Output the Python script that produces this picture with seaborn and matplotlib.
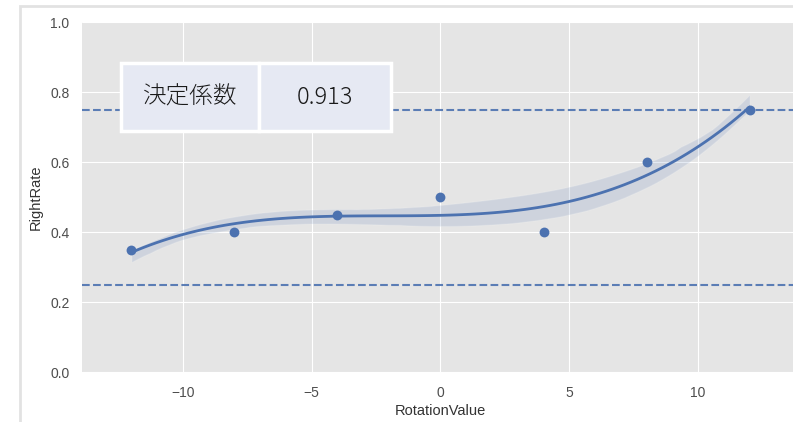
import matplotlib
matplotlib.use("Agg")
import matplotlib.pyplot as plt
from matplotlib.patches import Rectangle
import numpy as np
import pandas as pd
import seaborn as sns

# Measured response rates per rotation setting
rotation_value = [-12, -8, -4, 0, 4, 8, 12]
right_rate = [0.35, 0.40, 0.45, 0.50, 0.40, 0.60, 0.75]
trials_per_setting = 4
upper_ref = 0.75
lower_ref = 0.25
r2_label = "決定係数"
r2_value = 0.913

sns.set_style("darkgrid", {"axes.facecolor": "#E5E5E5", "grid.color": "white"})
plt.rcParams["font.family"] = ["Liberation Sans", "Noto Sans CJK JP", "DejaVu Sans"]
plt.rcParams["axes.unicode_minus"] = True

points = pd.DataFrame({"RotationValue": rotation_value, "RightRate": right_rate})
# one row per trial; every trial at a setting carries that setting's rate
trials = pd.DataFrame({
    "RotationValue": np.repeat(rotation_value, trials_per_setting),
    "RightRate": np.repeat(right_rate, trials_per_setting),
})
blue = sns.color_palette("deep")[0]

fig = plt.figure(figsize=(7.93, 4.22), dpi=100)
ax = fig.add_axes([82 / 793, 50 / 422, 717 / 793, 350 / 422])

sns.regplot(data=trials, x="RotationValue", y="RightRate", order=3, ax=ax,
            color=blue, seed=7, scatter=False, line_kws={"lw": 2})
sns.scatterplot(data=points, x="RotationValue", y="RightRate", ax=ax,
                color=blue, s=50, linewidth=0, zorder=3)

ax.axhline(upper_ref, color=blue, ls="--", lw=1.5, alpha=0.9)
ax.axhline(lower_ref, color=blue, ls="--", lw=1.5, alpha=0.9)

ax.set_xlim(-13.92, 13.92)
ax.set_ylim(0, 1.0)
ax.set_xticks([-10, -5, 0, 5, 10])
ax.set_yticks([0.0, 0.2, 0.4, 0.6, 0.8, 1.0])
ax.tick_params(axis="both", colors="#4d4d4d", labelsize=10, length=0)
ax.tick_params(axis="x", pad=10)
ax.tick_params(axis="y", pad=9)
ax.set_xlabel("RotationValue", fontsize=10.5, color="#333333", labelpad=3)
ax.set_ylabel("RightRate", fontsize=10.5, color="#333333", labelpad=5)
for s in ax.spines.values():
    s.set_visible(False)

# Coefficient of determination box, drawn above grid and reference lines
tbl = ax.table(cellText=[[r2_label, f"{r2_value:.3f}"]],
               cellColours=[["#E6E9F3", "#E6E9F3"]],
               cellLoc="center",
               bbox=[39 / 717, 241 / 350, 270 / 717, 68 / 350])
tbl.set_zorder(5)
tbl.auto_set_font_size(False)
for (r, c), cell in tbl.get_celld().items():
    cell.set_edgecolor("white")
    cell.set_linewidth(2.5)
    txt = cell.get_text()
    txt.set_fontsize(17)
    txt.set_fontfamily(["Noto Sans CJK JP", "DejaVu Sans"])
    txt.set_fontweight("light")
    txt.set_color("#1a1a1a")
tbl[(0, 0)].set_width(138 / 717)
tbl[(0, 1)].set_width(132 / 717)

# Outer frame of the figure
fig.patches.append(Rectangle((20 / 793, -0.2), 1.2, 0.2 + 416 / 422,
                             transform=fig.transFigure, fill=False,
                             edgecolor="#E2E2E2", lw=2))

fig.savefig("out.png", dpi=100)
